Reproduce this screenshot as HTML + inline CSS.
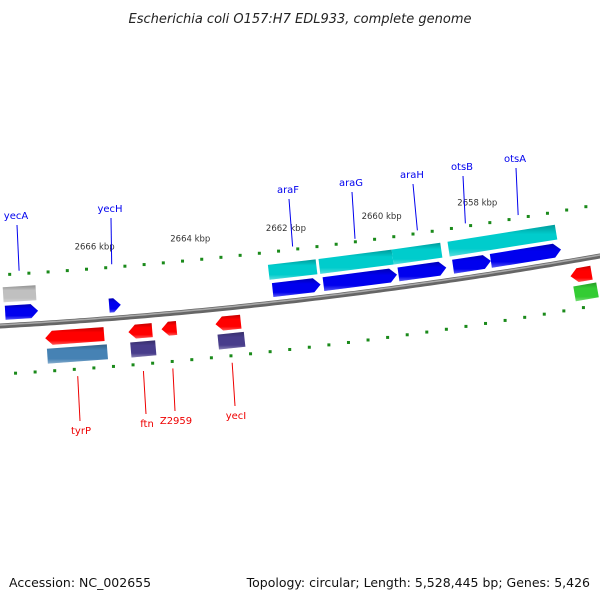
<!DOCTYPE html>
<html><head><meta charset="utf-8"><style>
body{margin:0;background:#fff}
svg{display:block;font-family:"DejaVu Sans","Liberation Sans",sans-serif}
</style></head><body>
<svg id="map" width="600" height="600" viewBox="0 0 600 600" xmlns="http://www.w3.org/2000/svg">
<text x="300" y="23" text-anchor="middle" font-size="13" font-style="italic" fill="#222">Escherichia coli O157:H7 EDL933, complete genome</text>
<text x="9" y="587" font-size="12.5" fill="#111">Accession: NC_002655</text>
<text x="590" y="587" text-anchor="end" font-size="12.5" fill="#111">Topology: circular; Length: 5,528,445 bp; Genes: 5,426</text>
<g id="plot"></g>
</svg>
<script>
// Data (positions in kbp)
const majorTicks = [2668, 2666, 2664, 2662, 2660, 2658, 2656];
const tickLabels = ["2666 kbp", "2664 kbp", "2662 kbp", "2660 kbp", "2658 kbp"];
const tickLabelPos = [2666, 2664, 2662, 2660, 2658];
// forward strand CDS: [start, end]
const fwdCdsNames = ["yecA", "yecH", "araF", "araG", "araH", "otsB", "otsA"];
const fwdCds = [[2667.94, 2667.26], [2665.79, 2665.55], [2662.41, 2661.42], [2661.36, 2659.84], [2659.81, 2658.82], [2658.68, 2657.90], [2657.90, 2656.45]];
const fwdGenes = [[2667.96, 2667.28, "#c0c0c0"], [2662.45, 2661.46, "#00cccc"], [2661.40, 2659.88, "#00cccc"], [2659.88, 2658.87, "#00cccc"], [2658.72, 2656.49, "#00cccc"]];
const revCdsNames = ["tyrP", "ftn", "Z2959", "yecI", ""];
const revCds = [[2667.15, 2665.94], [2665.44, 2664.95], [2664.76, 2664.45], [2663.65, 2663.13], [2656.35, 2655.92]];
const revGenes = [[2667.13, 2665.90, "#4682b4"], [2665.42, 2664.91, "#483d8b"], [2663.63, 2663.09, "#483d8b"], [2656.33, 2655.86, "#33cc33"]];
// label anchor [kbp, labelX, labelY]
const fwdLabels = [[2667.6, 16, 219], [2665.67, 110, 212], [2661.9, 288, 193], [2660.6, 351, 186], [2659.3, 412, 178], [2658.3, 462, 170], [2657.2, 515, 162]];
const revLabels = [[2666.54, 81, 434], [2665.2, 147, 427], [2664.6, 176, 424], [2663.39, 236, 419]];

const NS = "http://www.w3.org/2000/svg";
const g = document.getElementById("plot");
function X(k) { return 100 + (2666 - k) * 48.5; }
function yb(x) { return 326 - 0.0567 * x - 0.0001 * x * x; }
function sl(x) { return -0.0567 - 0.0002 * x; }
function pos(k, d) { const x = X(k); const s = sl(x); const n = Math.sqrt(1 + s * s); return [x - d * s / n, yb(x) + d / n]; }
function el(tag, attrs, parent) { const e = document.createElementNS(NS, tag); for (const a in attrs) e.setAttribute(a, attrs[a]); (parent || g).appendChild(e); return e; }
function pts(arr) { return arr.map(p => p[0].toFixed(1) + "," + p[1].toFixed(1)).join(" "); }

// backbone
let dpath = "";
for (let x = -5; x <= 605; x += 5) dpath += (x === -5 ? "M" : "L") + x + "," + yb(x).toFixed(1);
const bb = el("path", { d: dpath, stroke: "#666", "stroke-width": 5, fill: "none" });


const bb2 = el("path", { d: dpath, stroke: "#aaa", "stroke-width": 1.5, fill: "none", transform: "translate(0,-1)" });



// ticks
function ticks(d, name) {
  for (let i = 0; i <= 36; i++) {
    const k = 2668.2 - i * 0.4;
    const isMajor = majorTicks.some(m => Math.abs(m - k) < 0.01);
    if (isMajor) {
      const a = pos(k, d - 5), b = pos(k, d + 5);
      const t = el("line", { x1: a[0], y1: a[1], x2: b[0], y2: b[1], stroke: "#1a8a1a", "stroke-width": 2.2 });
      
      
    } else {
      const p = pos(k, d);
      const t = el("rect", { x: p[0] - 1.5, y: p[1] - 1.5, width: 3, height: 3, fill: "#1a8a1a" });
      
      
    }
  }
}
ticks(-51, "upper");
ticks(48, "lower");
tickLabels.forEach((t, i) => {
  const p = pos(tickLabelPos[i], -70);
  const e = el("text", { x: p[0], y: p[1], "text-anchor": "middle", "font-size": 8.5, fill: "#333" });
  e.textContent = t;
  
  
});

function feature(k1, k2, d, h, color, arrowDir, name) {
  const grp = el("g", {});
  
  
  let shape;
  const head = 7 / 48.5;
  if (arrowDir === 1) { // pointing right (towards smaller kbp)
    shape = [pos(k1, d - h / 2), pos(k2 + head, d - h / 2), pos(k2, d), pos(k2 + head, d + h / 2), pos(k1, d + h / 2)];
  } else if (arrowDir === -1) {
    shape = [pos(k1 - head, d - h / 2), pos(k2, d - h / 2), pos(k2, d + h / 2), pos(k1 - head, d + h / 2), pos(k1, d)];
  } else {
    shape = [pos(k1, d - h / 2), pos(k2, d - h / 2), pos(k2, d + h / 2), pos(k1, d + h / 2)];
  }
  el("polygon", { points: pts(shape), fill: color }, grp);
  el("polygon", { points: pts(shape), fill: "url(#shade)" }, grp);
}
const defs = el("defs", {}, document.getElementById("map"));
const lg = el("linearGradient", { id: "shade", x1: 0, y1: 0, x2: 0, y2: 1 }, defs);
el("stop", { offset: "0", "stop-color": "#000", "stop-opacity": 0.25 }, lg);
el("stop", { offset: "0.3", "stop-color": "#000", "stop-opacity": 0 }, lg);
el("stop", { offset: "0.75", "stop-color": "#fff", "stop-opacity": 0 }, lg);
el("stop", { offset: "1", "stop-color": "#fff", "stop-opacity": 0.35 }, lg);

fwdGenes.forEach(f => feature(f[0], f[1], -31, 15, f[2], 0, "forward-gene-bar"));
fwdCds.forEach((f, i) => feature(f[0], f[1], -13, 14, "#0000ee", 1, "cds-" + fwdCdsNames[i]));
revCds.forEach((f, i) => feature(f[0], f[1], 15, 14, "#ff0000", -1, "cds-" + (revCdsNames[i] || "reverse")));
revGenes.forEach(f => feature(f[0], f[1], 33, 15, f[2], 0, "reverse-gene-bar"));

fwdLabels.forEach((l, i) => {
  const p = pos(l[0], -54);
  const ln = el("line", { x1: l[1] + 1, y1: l[2] + 6, x2: p[0], y2: p[1], stroke: "#0000ee", "stroke-width": 1 });
  
  
  const t = el("text", { x: l[1], y: l[2], "text-anchor": "middle", "font-size": 10, fill: "#0000ee" });
  t.textContent = fwdCdsNames[i];
  
  
});
revLabels.forEach((l, i) => {
  const p = pos(l[0], 55);
  const ln = el("line", { x1: p[0], y1: p[1], x2: l[1] - 1, y2: l[2] - 13, stroke: "#ee0000", "stroke-width": 1 });
  
  
  const t = el("text", { x: l[1], y: l[2], "text-anchor": "middle", "font-size": 10, fill: "#ee0000" });
  t.textContent = revCdsNames[i];
  
  
});
</script>
</body></html>
